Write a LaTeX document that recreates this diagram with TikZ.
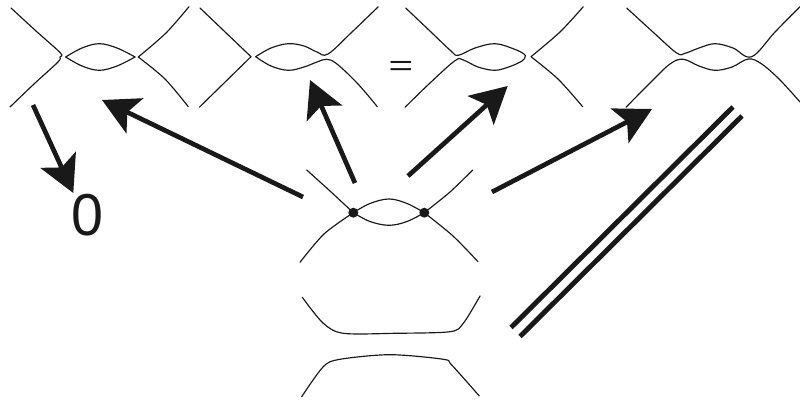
\documentclass[tikz,border=0pt]{standalone}
\usepackage{fontspec}
\setmainfont{Liberation Sans}
\usetikzlibrary{arrows.meta}

\tikzset{
  strand/.style={line width=1pt,line cap=round,line join=round,color=black!90},
  bigarrow/.style={line width=4pt,color=black!90,-{Stealth[length=31pt,width=33pt,inset=7pt]}},
  railline/.style={line width=4.2pt,color=black!90},
  vertexdot/.style={circle,fill=black!90,inner sep=0pt,minimum size=8.5pt},
  biglabel/.style={inner sep=0pt,color=black!90}
}

\begin{document}
\begin{tikzpicture}[x=0.03cm,y=-0.03cm]

  \useasboundingbox (0,0) rectangle (800,401);

  % First smoothing: everything pulled apart
  \draw[strand] plot[smooth,tension=0.5] coordinates {(11,8) (36,31) (60.5,53) (60,57) (58,62) (34,84) (10,107)};
  \draw[strand] plot[smooth,tension=0.6] coordinates {(65.7,57) (82,48) (99.3,43.7) (117,48) (135,57)};
  \draw[strand] plot[smooth,tension=0.6] coordinates {(65.7,57) (82,66) (99.3,70.3) (117,66) (135,57)};
  \draw[strand] plot[smooth,tension=0.5] coordinates {(189,6.7) (166,33) (138.3,57)};
  \draw[strand] plot[smooth,tension=0.5] coordinates {(138.3,57) (165,79) (188.3,106.7)};

  % Second smoothing
  \draw[strand] (200,8) -- (251,56.7) -- (199.3,107.3);
  \draw[strand] plot[smooth,tension=0.6] coordinates {(255.7,56.7) (271,48) (288.3,43.7) (304,46) (317,52) (328,54) (352,32) (378.3,6.7)};
  \draw[strand] plot[smooth,tension=0.6] coordinates {(255.7,56.7) (271,66) (288.3,70.3) (304,67) (317,62) (326.7,59.3) (337,64) (358,84) (377.3,106.7)};

  % Third smoothing
  \draw[strand] plot[smooth,tension=0.6] coordinates {(405.7,8) (432,33) (451,51) (458.3,55.3) (475,48) (495,43.7) (514,49) (524,54) (525,57) (522,61) (510,66.5) (495,70.3) (478,67) (463.3,60) (455,60.7) (430,83) (405,107.3)};
  \draw[strand] plot[smooth,tension=0.5] coordinates {(583.3,6.7) (560,32) (531,56.7)};
  \draw[strand] plot[smooth,tension=0.5] coordinates {(531,56.7) (558,79) (582.7,106.7)};

  % Fourth smoothing, runs off the right edge
  \draw[strand] plot[smooth,tension=0.6] coordinates {(626.7,8) (654,33) (676.7,53) (685,53.3) (699,48) (715,43.7) (733,48) (751.7,56.7) (775,32) (800,6.7)};
  \draw[strand] plot[smooth,tension=0.6] coordinates {(626,107.3) (650,83) (670,64) (683.3,59.3) (699,66) (715,70.3) (732,67) (748.3,59) (761.7,64) (780,80) (800,102)};

  % The central picture with its two vertices
  \node[vertexdot] (vertexl) at (353.3,212.7) {};
  \node[vertexdot] (vertexr) at (424.3,212.7) {};
  \draw[strand] plot[smooth,tension=0.5] coordinates {(306.7,170) (330,191) (353.3,212.7)};
  \draw[strand] plot[smooth,tension=0.5] coordinates {(300,262.3) (324,234) (353.3,212.7)};
  \draw[strand] plot[smooth,tension=0.6] coordinates {(353.3,212.7) (370,203.5) (389,199) (407,203.5) (424.3,212.7)};
  \draw[strand] plot[smooth,tension=0.6] coordinates {(353.3,212.7) (370,221.5) (389,225.3) (407,221.5) (424.3,212.7)};
  \draw[strand] plot[smooth,tension=0.5] coordinates {(424.3,212.7) (450,192) (472.7,170)};
  \draw[strand] plot[smooth,tension=0.5] coordinates {(424.3,212.7) (453,236) (478,261.7)};

  % The two arcs below
  \draw[strand] plot[smooth,tension=0.5] coordinates {(302.3,297.3) (323,323) (343.3,333.3) (395,333.3) (450,331.7) (463.3,323.3) (480,296)};
  \draw[strand] plot[smooth,tension=0.5] coordinates {(301.7,396.7) (323.3,366.7) (340,359.3) (390,354.7) (443.3,359.3) (451.7,365) (479.3,396)};

  % Labels
  \node[biglabel,font=\fontsize{49}{49}\selectfont] (zero) at (87,215.5) {\scalebox{1}[1.03]{0}};
  \node[biglabel,font=\fontsize{36}{36}\selectfont] (equals) at (401,68) {\scalebox{1}[0.68]{=}};

  % Arrows
  \coordinate (zerotail) at (33,105);
  \coordinate (zerotip) at (73.3,193);
  \coordinate (firsttail) at (303,197);
  \coordinate (firsttip) at (102,100);
  \coordinate (secondtail) at (355,183);
  \coordinate (secondtip) at (310,80);
  \coordinate (thirdtail) at (408,176);
  \coordinate (thirdtip) at (507.7,86);
  \coordinate (fourthtail) at (492,192);
  \coordinate (fourthtip) at (652,109);
  \draw[bigarrow] (zerotail) -- (zerotip);
  \draw[bigarrow] (firsttail) -- (firsttip);
  \draw[bigarrow] (secondtail) -- (secondtip);
  \draw[bigarrow] (thirdtail) -- (thirdtip);
  \draw[bigarrow] (fourthtail) -- (fourthtip);

  % The long equals sign
  \coordinate (railatop) at (733,107);
  \coordinate (railabot) at (511,327.5);
  \coordinate (railbtop) at (742,116);
  \coordinate (railbbot) at (520,336.5);
  \draw[railline] (railatop) -- (railabot);
  \draw[railline] (railbtop) -- (railbbot);

\end{tikzpicture}
\end{document}
